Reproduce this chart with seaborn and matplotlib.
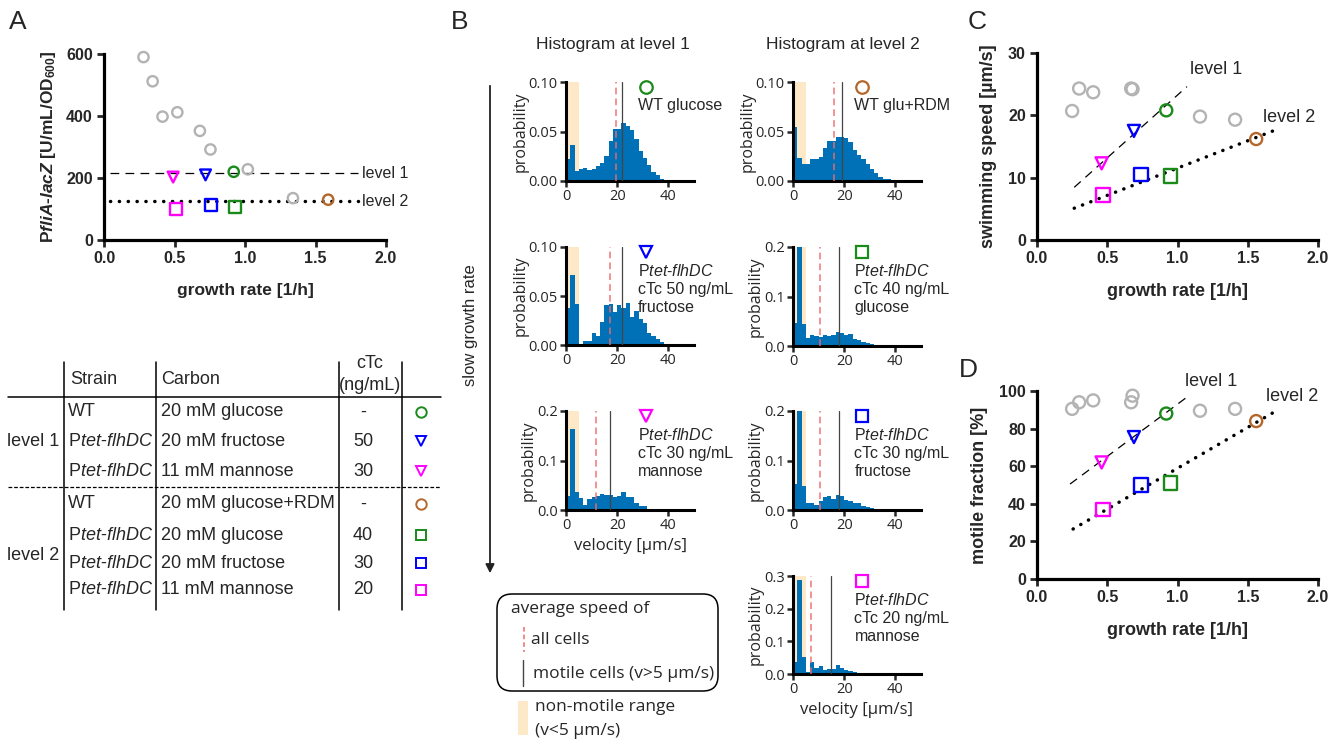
import matplotlib
matplotlib.use("Agg")
import matplotlib.pyplot as plt
from matplotlib.patches import FancyBboxPatch, Rectangle
import seaborn as sns
import numpy as np
import pandas as pd

W, H = 1344, 741

# ---------------- data ----------------
# conditions picked out in colour (same order everywhere)
sel_names = ["WT glucose", "tet 50 fructose", "tet 30 mannose",
             "WT glu+RDM", "tet 40 glucose", "tet 30 fructose", "tet 20 mannose"]
sel_colors = ["#1a8a1a", "#0000ff", "#ff00ff", "#b5672b", "#1a8a1a", "#0000ff", "#ff00ff"]
sel_markers = ["o", "v", "v", "o", "s", "s", "s"]

# panel A
grey_rate_a = [0.28, 0.345, 0.415, 0.52, 0.68, 0.755, 1.02, 1.34]
grey_lacz = [590, 512, 398, 412, 352, 292, 228, 135]
sel_rate_a = [0.92, 0.72, 0.49, 1.59, 0.93, 0.76, 0.51]
sel_lacz = [220, 210, 203, 130, 105, 113, 100]
level_lacz = [215, 125]
level_x = [0.04, 1.80]

# panels C and D
grey_rate_cd = [0.25, 0.30, 0.40, 0.67, 0.68, 1.16, 1.41]
grey_speed = [20.7, 24.3, 23.7, 24.3, 24.2, 19.8, 19.3]
grey_motile = [90.5, 94.0, 95.0, 94.0, 97.5, 89.5, 90.5]
sel_rate_cd = [0.92, 0.69, 0.46, 1.56, 0.95, 0.74, 0.47]
sel_speed = [20.8, 17.5, 12.3, 16.2, 10.3, 10.5, 7.2]
sel_motile = [88.0, 75.5, 62.0, 84.0, 51.0, 50.0, 37.0]
fit1_rate_c, fit1_speed = [0.265, 1.067], [8.45, 24.6]
fit2_rate_c, fit2_speed = [0.265, 1.68], [5.1, 17.5]
fit1_rate_d, fit1_motile = [0.235, 1.09], [50.5, 98.0]
fit2_rate_d, fit2_motile = [0.257, 1.72], [26.6, 90.2]

# panel B: velocity histograms (bin width 5/3 um/s starting at 0)
BIN_W = 5 / 3
h_wt_glc = [0.0227, 0.0367, 0.0097, 0.0117, 0.0127, 0.011, 0.0117, 0.015, 0.0177, 0.025,
            0.0407, 0.0527, 0.053, 0.0587, 0.0557, 0.0517, 0.0423, 0.0307, 0.0233, 0.0157,
            0.0093, 0.0057, 0.0023, 0.0013, 0.001]
h_tet50_fru = [0.038, 0.0717, 0.042, 0.0, 0.004, 0.004, 0.012, 0.0096, 0.023, 0.041,
               0.042, 0.034, 0.041, 0.0375, 0.043, 0.029, 0.0345, 0.0266, 0.022, 0.0126,
               0.0096, 0.0058, 0.0034, 0.001, 0.001]
h_tet30_man = [0.028, 0.163, 0.0356, 0.025, 0.010, 0.022, 0.027, 0.029, 0.032, 0.031,
               0.0295, 0.027, 0.028, 0.0356, 0.0255, 0.026, 0.0134, 0.008, 0.008]
h_wt_rdm = [0.055, 0.0234, 0.0176, 0.0169, 0.0224, 0.0224, 0.0244, 0.033, 0.040, 0.040,
            0.0447, 0.044, 0.0434, 0.0397, 0.031, 0.026, 0.0224, 0.0176, 0.0125, 0.0078,
            0.004, 0.0024, 0.0017, 0.0007]
h_tet40_glc = [0.0457, 0.24, 0.0438, 0.017, 0.0215, 0.0195, 0.018, 0.0215, 0.0195, 0.022,
               0.0276, 0.0256, 0.022, 0.0236, 0.0148, 0.0114, 0.008, 0.0054, 0.0034, 0.002]
h_tet30_fru = [0.052, 0.22, 0.0486, 0.014, 0.014, 0.010, 0.018, 0.027, 0.028, 0.0216,
               0.030, 0.0277, 0.020, 0.019, 0.014, 0.014, 0.008, 0.0068, 0.0047]
h_tet20_man = [0.0366, 0.287, 0.052, 0.006, 0.0366, 0.019, 0.0234, 0.012, 0.016, 0.016,
               0.027, 0.019, 0.012, 0.010, 0.006]
hist_values = [h_wt_glc, h_tet50_fru, h_tet30_man, h_wt_rdm, h_tet40_glc, h_tet30_fru, h_tet20_man]
mean_all = [19.6, 17.0, 11.8, 16.2, 10.4, 10.6, 7.1]
mean_motile = [21.8, 21.7, 17.3, 19.1, 17.9, 17.9, 14.7]
hist_ymax = [0.10, 0.10, 0.2, 0.10, 0.2, 0.2, 0.3]
hist_labels = ["WT glucose",
               "P$\\mathit{tet}$-$\\mathit{flhDC}$\ncTc 50 ng/mL\nfructose",
               "P$\\mathit{tet}$-$\\mathit{flhDC}$\ncTc 30 ng/mL\nmannose",
               "WT glu+RDM",
               "P$\\mathit{tet}$-$\\mathit{flhDC}$\ncTc 40 ng/mL\nglucose",
               "P$\\mathit{tet}$-$\\mathit{flhDC}$\ncTc 30 ng/mL\nfructose",
               "P$\\mathit{tet}$-$\\mathit{flhDC}$\ncTc 20 ng/mL\nmannose"]

# table in panel A
tab_strain = ["WT", "P$\\mathit{tet}$-$\\mathit{flhDC}$", "P$\\mathit{tet}$-$\\mathit{flhDC}$",
              "WT", "P$\\mathit{tet}$-$\\mathit{flhDC}$", "P$\\mathit{tet}$-$\\mathit{flhDC}$",
              "P$\\mathit{tet}$-$\\mathit{flhDC}$"]
tab_carbon = ["20 mM glucose", "20 mM fructose", "11 mM mannose", "20 mM glucose+RDM",
              "20 mM glucose", "20 mM fructose", "11 mM mannose"]
tab_ctc = ["-", "50", "30", "-", "40", "30", "20"]

GREY = "#b3b3b3"
HIST_BLUE = "#0071b6"
BEIGE = "#fde9c8"
RED = "#f06a6a"

# ---------------- style ----------------
sns.set_style("ticks")
plt.rcParams["font.family"] = ["Liberation Sans", "DejaVu Sans"]
plt.rcParams["mathtext.fontset"] = "custom"
plt.rcParams["mathtext.rm"] = "Liberation Sans"
plt.rcParams["mathtext.it"] = "Liberation Sans:italic"
plt.rcParams["mathtext.bf"] = "Liberation Sans:bold"
try:
    plt.rcParams["mathtext.bfit"] = "Liberation Sans:italic:bold"
except KeyError:
    pass

fig = plt.figure(figsize=(W / 100, H / 100), dpi=100)


def px_axes(l, t, r, b):
    return fig.add_axes([l / W, 1 - b / H, (r - l) / W, (b - t) / H])


# overlay for text, table, arrow and legend box (pixel coordinates)
ov = fig.add_axes([0, 0, 1, 1])
ov.set_xlim(0, W)
ov.set_ylim(H, 0)
ov.axis("off")
ov.patch.set_visible(False)


def prism_style(ax):
    sns.despine(ax=ax)
    for s in ["left", "bottom"]:
        ax.spines[s].set_linewidth(2.3)
        ax.spines[s].set_color("black")
    ax.tick_params(width=2, length=5, direction="out", labelsize=11.5, pad=3)
    for lab in ax.get_xticklabels() + ax.get_yticklabels():
        lab.set_fontweight("bold")


def draw_points(ax, gx, gy, sx, sy, sizes):
    sns.scatterplot(x=gx, y=gy, ax=ax, marker="o", s=sizes["o"], color=GREY,
                    facecolor="none", edgecolor=GREY, linewidth=1.7, zorder=3, clip_on=False)
    for x, y, m, c in zip(sx, sy, sel_markers, sel_colors):
        sns.scatterplot(x=[x], y=[y], ax=ax, marker=m, s=sizes[m], color=c,
                        facecolor="none", edgecolor=c, linewidth=1.7, zorder=4, clip_on=False)


DOTTED = dict(color="black", linewidth=2.5, linestyle=(0, (0.05, 2.5)), dash_capstyle="round")
DASHED = dict(color="black", linewidth=0.9, linestyle=(0, (7, 5)))

# ---------------- panel A ----------------
axA = px_axes(104, 54, 386, 240)
sns.lineplot(x=level_x, y=[level_lacz[0]] * 2, ax=axA, **DASHED)
sns.lineplot(x=level_x, y=[level_lacz[1]] * 2, ax=axA, **DOTTED)
draw_points(axA, grey_rate_a, grey_lacz, sel_rate_a, sel_lacz, {"o": 55, "v": 60, "s": 75})
axA.text(1.83, level_lacz[0], "level 1", fontsize=11.5, va="center")
axA.text(1.83, level_lacz[1], "level 2", fontsize=11.5, va="center")
axA.set_xlim(0, 2)
axA.set_ylim(0, 600)
axA.set_xticks([0, 0.5, 1.0, 1.5, 2.0])
axA.set_xticklabels(["0.0", "0.5", "1.0", "1.5", "2.0"])
axA.set_yticks([0, 200, 400, 600])
prism_style(axA)
axA.set_xlabel("growth rate [1/h]", fontsize=12.5, fontweight="bold", labelpad=12)
axA.set_ylabel("P$\\mathbfit{fliA}$-$\\mathbfit{lacZ}$ [U/mL/OD$_{\\mathbf{600}}$]",
               fontsize=12.5, fontweight="bold", labelpad=6)

# ---------------- panels C, D ----------------
axC = px_axes(1037, 53, 1318, 240)
sns.lineplot(x=fit1_rate_c, y=fit1_speed, ax=axC, **DASHED)
sns.lineplot(x=fit2_rate_c, y=fit2_speed, ax=axC, **DOTTED)
draw_points(axC, grey_rate_cd, grey_speed, sel_rate_cd, sel_speed, {"o": 75, "v": 75, "s": 95})
axC.text(1.09, 27.3, "level 1", fontsize=13, va="center")
axC.text(1.61, 19.7, "level 2", fontsize=13, va="center")
axC.set_xlim(0, 2)
axC.set_ylim(0, 30)
axC.set_xticks([0, 0.5, 1.0, 1.5, 2.0])
axC.set_xticklabels(["0.0", "0.5", "1.0", "1.5", "2.0"])
axC.set_yticks([0, 10, 20, 30])
prism_style(axC)
axC.set_xlabel("growth rate [1/h]", fontsize=13, fontweight="bold", labelpad=12)
axC.set_ylabel("swimming speed [µm/s]", fontsize=13, fontweight="bold", labelpad=8)

axD = px_axes(1037, 391, 1318, 579)
sns.lineplot(x=fit1_rate_d, y=fit1_motile, ax=axD, **DASHED)
sns.lineplot(x=fit2_rate_d, y=fit2_motile, ax=axD, **DOTTED)
draw_points(axD, grey_rate_cd, grey_motile, sel_rate_cd, sel_motile, {"o": 75, "v": 75, "s": 95})
axD.text(1.05, 105, "level 1", fontsize=13, va="center")
axD.text(1.63, 97, "level 2", fontsize=13, va="center")
axD.set_xlim(0, 2)
axD.set_ylim(0, 100)
axD.set_xticks([0, 0.5, 1.0, 1.5, 2.0])
axD.set_xticklabels(["0.0", "0.5", "1.0", "1.5", "2.0"])
axD.set_yticks([0, 20, 40, 60, 80, 100])
prism_style(axD)
axD.set_xlabel("growth rate [1/h]", fontsize=13, fontweight="bold", labelpad=12)
axD.set_ylabel("motile fraction [%]", fontsize=13, fontweight="bold", labelpad=8)

# ---------------- panel B histograms ----------------
hist_boxes = [(566, 82, 694, 181), (566, 247, 694, 345), (566, 411, 694, 510),
              (793, 82, 921, 181), (793, 247, 921, 346), (793, 411, 921, 510),
              (793, 576, 921, 674)]
HFONT = ["Open Sans", "DejaVu Sans"]
for i, box in enumerate(hist_boxes):
    ax = px_axes(*box)
    vals = hist_values[i]
    n = len(vals)
    hist_df = pd.DataFrame({"velocity": (np.arange(n) + 0.5) * BIN_W, "prob": vals})
    ax.axvspan(0, 5, color=BEIGE, zorder=0, lw=0)
    sns.histplot(data=hist_df, x="velocity", weights="prob", binwidth=BIN_W,
                 binrange=(0, n * BIN_W), ax=ax, color=HIST_BLUE,
                 alpha=1, linewidth=0, zorder=2)
    ax.axvline(mean_all[i], color=RED, ls=(0, (4, 2.5)), lw=1.2, alpha=0.85, zorder=3)
    ax.axvline(mean_motile[i], color="#444444", lw=0.9, zorder=3)
    ymax = hist_ymax[i]
    ax.set_xlim(0, 50)
    ax.set_ylim(0, ymax)
    ax.set_xticks([0, 20, 40])
    if ymax == 0.10:
        ax.set_yticks([0, 0.05, 0.10])
        ax.set_yticklabels(["0.00", "0.05", "0.10"])
    elif ymax == 0.2:
        ax.set_yticks([0, 0.1, 0.2])
        ax.set_yticklabels(["0.0", "0.1", "0.2"])
    else:
        ax.set_yticks([0, 0.1, 0.2, 0.3])
        ax.set_yticklabels(["0.0", "0.1", "0.2", "0.3"])
    sns.despine(ax=ax)
    for s in ["left", "bottom"]:
        ax.spines[s].set_linewidth(2.2)
        ax.spines[s].set_color("black")
    ax.tick_params(width=1.8, length=4, labelsize=10.5, pad=2)
    for lab in ax.get_xticklabels() + ax.get_yticklabels():
        lab.set_family(HFONT)
    ax.set_ylabel("probability", fontsize=11.5, family=HFONT, labelpad=0)
    if i in (2, 6):
        ax.set_xlabel("velocity [µm/s]", fontsize=12, family=HFONT, labelpad=3)
    else:
        ax.set_xlabel("")
    mx, tx = (0.625, 0.56) if box[0] < 700 else (0.54, 0.48)
    ax.plot([mx], [0.95], marker=sel_markers[i], ms=9, mfc="none", mec=sel_colors[i],
            mew=1.6, transform=ax.transAxes, clip_on=False, zorder=5)
    ax.text(tx, 0.84, hist_labels[i], transform=ax.transAxes, fontsize=11.5,
            va="top", ha="left", linespacing=1.25)

# ---------------- overlay: labels, table, arrow, legend ----------------
for lab, (x, y) in zip("ABCD", [(18, 22), (460, 22), (977, 22), (968, 370)]):
    ov.text(x, y, lab, fontsize=19, va="center", ha="center")

ov.text(613, 45, "Histogram at level 1", fontsize=12.5, ha="center", va="center")
ov.text(843, 45, "Histogram at level 2", fontsize=12.5, ha="center", va="center")

ov.annotate("", xy=(490, 576), xytext=(490, 83),
            arrowprops=dict(arrowstyle="-|>", color="#222222", lw=1.3, mutation_scale=13))
ov.text(470, 325, "slow growth rate", rotation=90, fontsize=12, ha="center", va="center")

box = FancyBboxPatch((497, 594), 221, 97, boxstyle="round,pad=0,rounding_size=15",
                     fc="none", ec="black", lw=1.1)
ov.add_patch(box)
LFONT = ["Open Sans", "DejaVu Sans"]
ov.text(511, 609, "average speed of", fontsize=12.5, va="center", family=LFONT)
ov.plot([524, 524], [627, 652], color=RED, lw=1.1, ls=(0, (3, 2)))
ov.text(531, 640, "all cells", fontsize=12.5, va="center", family=LFONT)
ov.plot([523, 523], [660, 686], color="#444444", lw=1)
ov.text(533, 674, "motile cells (v>5 µm/s)", fontsize=12.5, va="center", family=LFONT)
ov.add_patch(Rectangle((518, 701), 10, 34, fc=BEIGE, ec="none"))
ov.text(535, 707, "non-motile range", fontsize=12.5, va="center", family=LFONT)
ov.text(535, 731, "(v<5 µm/s)", fontsize=12.5, va="center", family=LFONT)

# table
for x in [64, 156, 339, 402]:
    ov.plot([x, x], [362, 610], color="black", lw=1.1)
ov.plot([8, 441], [397, 397], color="black", lw=1.1)
ov.plot([8, 441], [487, 487], color="black", lw=0.9, ls=(0, (3, 1.5)))
ov.text(70, 379, "Strain", fontsize=13, va="center")
ov.text(161, 379, "Carbon", fontsize=13, va="center")
ov.text(370, 363, "cTc", fontsize=13, va="center", ha="center")
ov.text(370, 386, "(ng/mL)", fontsize=13, va="center", ha="center")
ov.text(7, 442, "level 1", fontsize=13, va="center")
ov.text(7, 555, "level 2", fontsize=13, va="center")
row_y = [412, 441, 471, 504, 535, 563, 590]
for y, st, cb, ct, m, c in zip(row_y, tab_strain, tab_carbon, tab_ctc, sel_markers, sel_colors):
    ov.text(68, y, st, fontsize=13, va="center")
    ov.text(161, y, cb, fontsize=13, va="center")
    ov.text(363, y, ct, fontsize=13, va="center", ha="center")
    ov.plot([421], [y], marker=m, ms=7.5, mfc="none", mec=c, mew=1.4)

fig.savefig("out.png", dpi=100)
